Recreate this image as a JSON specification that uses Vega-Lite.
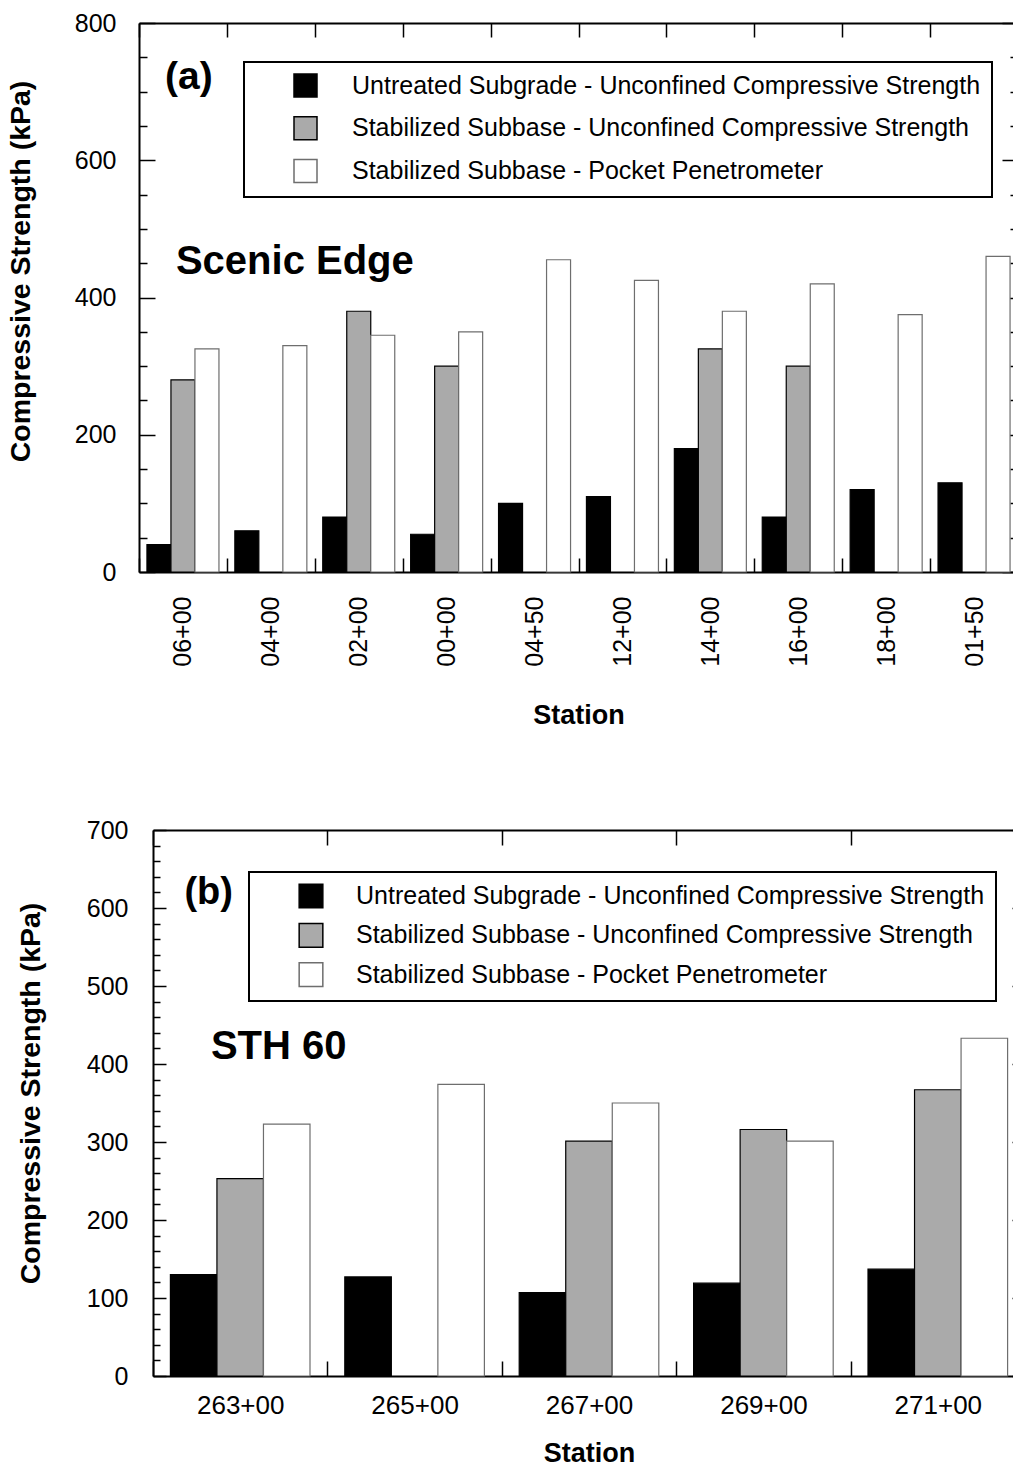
{
  "$schema": "https://vega.github.io/schema/vega-lite/v6.json",
  "background": "white",
  "padding": {"left": 6, "top": 11, "right": 0, "bottom": 0},
  "spacing": 90,
  "config": {
    "font": "Liberation Sans",
    "view": {"stroke": null},
    "axis": {
      "domainColor": "black", "domainWidth": 2, "tickColor": "black", "tickWidth": 1.5,
      "labelColor": "black", "titleColor": "black", "grid": false,
      "labelFont": "Liberation Sans", "titleFont": "Liberation Sans",
      "labelFontSize": 25, "titleFontSize": 27, "titleFontWeight": "bold"
    },
    "legend": {
      "orient": "none", "title": null, "symbolType": "square", "symbolSize": 529,
      "labelFont": "Liberation Sans", "labelFontSize": 25, "labelColor": "black", "labelLimit": 1000,
      "strokeColor": "black", "strokeWidth": 2, "fillColor": "white",
      "symbolStrokeColor": "black", "symbolStrokeWidth": 1.5
    }
  },
  "resolve": {"scale": {"fill": "independent", "stroke": "independent", "xOffset": "independent", "x": "independent", "y": "independent"}, "legend": {"fill": "independent"}},
  "vconcat": [
    {
      "width": 879,
      "height": 549,
      "data": {"values": [
        {"station": "06+00", "series": "Untreated Subgrade - Unconfined Compressive Strength", "value": 40},
        {"station": "06+00", "series": "Stabilized Subbase - Unconfined Compressive Strength", "value": 280},
        {"station": "06+00", "series": "Stabilized Subbase - Pocket Penetrometer", "value": 325},
        {"station": "04+00", "series": "Untreated Subgrade - Unconfined Compressive Strength", "value": 60},
        {"station": "04+00", "series": "Stabilized Subbase - Pocket Penetrometer", "value": 330},
        {"station": "02+00", "series": "Untreated Subgrade - Unconfined Compressive Strength", "value": 80},
        {"station": "02+00", "series": "Stabilized Subbase - Unconfined Compressive Strength", "value": 380},
        {"station": "02+00", "series": "Stabilized Subbase - Pocket Penetrometer", "value": 345},
        {"station": "00+00", "series": "Untreated Subgrade - Unconfined Compressive Strength", "value": 55},
        {"station": "00+00", "series": "Stabilized Subbase - Unconfined Compressive Strength", "value": 300},
        {"station": "00+00", "series": "Stabilized Subbase - Pocket Penetrometer", "value": 350},
        {"station": "04+50", "series": "Untreated Subgrade - Unconfined Compressive Strength", "value": 100},
        {"station": "04+50", "series": "Stabilized Subbase - Pocket Penetrometer", "value": 455},
        {"station": "12+00", "series": "Untreated Subgrade - Unconfined Compressive Strength", "value": 110},
        {"station": "12+00", "series": "Stabilized Subbase - Pocket Penetrometer", "value": 425},
        {"station": "14+00", "series": "Untreated Subgrade - Unconfined Compressive Strength", "value": 180},
        {"station": "14+00", "series": "Stabilized Subbase - Unconfined Compressive Strength", "value": 325},
        {"station": "14+00", "series": "Stabilized Subbase - Pocket Penetrometer", "value": 380},
        {"station": "16+00", "series": "Untreated Subgrade - Unconfined Compressive Strength", "value": 80},
        {"station": "16+00", "series": "Stabilized Subbase - Unconfined Compressive Strength", "value": 300},
        {"station": "16+00", "series": "Stabilized Subbase - Pocket Penetrometer", "value": 420},
        {"station": "18+00", "series": "Untreated Subgrade - Unconfined Compressive Strength", "value": 120},
        {"station": "18+00", "series": "Stabilized Subbase - Pocket Penetrometer", "value": 375},
        {"station": "01+50", "series": "Untreated Subgrade - Unconfined Compressive Strength", "value": 130},
        {"station": "01+50", "series": "Stabilized Subbase - Pocket Penetrometer", "value": 460}
      ]},
      "resolve": {"axis": {"x": "independent", "y": "independent"}},
      "layer": [
        {
          "mark": {"type": "bar", "strokeWidth": 1.2},
          "encoding": {
            "x": {"field": "station", "type": "nominal",
              "scale": {"domain": ["06+00","04+00","02+00","00+00","04+50","12+00","14+00","16+00","18+00","01+50"], "paddingInner": 0, "paddingOuter": 0},
              "axis": {"orient": "bottom", "labelAngle": -90, "labelPadding": 38, "tickSize": -14, "tickBand": "extent",
                "title": "Station", "titleY": 143, "titleBaseline": "middle"}},
            "xOffset": {"field": "series", "type": "nominal",
              "scale": {"domain": ["Untreated Subgrade - Unconfined Compressive Strength", "Stabilized Subbase - Unconfined Compressive Strength", "Stabilized Subbase - Pocket Penetrometer"], "paddingInner": 0, "paddingOuter": 0.331}},
            "y": {"field": "value", "type": "quantitative",
              "scale": {"domain": [0, 800], "nice": false},
              "axis": {"orient": "left", "values": [0,50,100,150,200,250,300,350,400,450,500,550,600,650,700,750,800],
                "labelExpr": "datum.value % 200 === 0 ? datum.label : ''",
                "tickSize": {"condition": {"test": "datum.value % 200 === 0", "value": -16}, "value": -8},
                "labelPadding": 39,
                "title": "Compressive Strength (kPa)", "titleFontSize": 28.5, "titleX": -119, "titleY": 248, "titleAngle": 270, "titleBaseline": "middle", "titleAlign": "center"}},
            "fill": {"field": "series", "type": "nominal",
              "scale": {"domain": ["Untreated Subgrade - Unconfined Compressive Strength", "Stabilized Subbase - Unconfined Compressive Strength", "Stabilized Subbase - Pocket Penetrometer"], "range": ["black", "#aaaaaa", "white"]},
              "legend": {"legendX": 105, "legendY": 39, "padding": 11, "symbolOffset": 38, "labelOffset": 34, "rowPadding": 13.7}},
            "stroke": {"field": "series", "type": "nominal",
              "scale": {"domain": ["Untreated Subgrade - Unconfined Compressive Strength", "Stabilized Subbase - Unconfined Compressive Strength", "Stabilized Subbase - Pocket Penetrometer"], "range": ["black", "black", "#6e6e6e"]},
              "legend": null}
          }
        },
        {
          "mark": {"type": "bar", "opacity": 0},
          "encoding": {
            "x": {"field": "station", "type": "nominal",
              "scale": {"domain": ["06+00","04+00","02+00","00+00","04+50","12+00","14+00","16+00","18+00","01+50"], "paddingInner": 0, "paddingOuter": 0},
              "axis": {"orient": "top", "labels": false, "title": null, "tickSize": -14, "tickBand": "extent"}},
            "xOffset": {"field": "series", "type": "nominal",
              "scale": {"domain": ["Untreated Subgrade - Unconfined Compressive Strength", "Stabilized Subbase - Unconfined Compressive Strength", "Stabilized Subbase - Pocket Penetrometer"], "paddingInner": 0, "paddingOuter": 0.331}},
            "y": {"field": "value", "type": "quantitative",
              "scale": {"domain": [0, 800], "nice": false},
              "axis": {"orient": "right", "labels": false, "title": null,
                "values": [0,50,100,150,200,250,300,350,400,450,500,550,600,650,700,750,800],
                "tickSize": {"condition": {"test": "datum.value % 200 === 0", "value": -16}, "value": -8}}}
          }
        },
        {
          "data": {"values": [{}]},
          "mark": {"type": "text", "text": "(a)", "font": "Liberation Sans", "fontWeight": "bold", "fontSize": 39, "color": "black", "align": "center", "baseline": "middle", "dx": 6},
          "encoding": {
            "x": {"datum": "06+00", "type": "nominal", "axis": null, "scale": {"domain": ["06+00","04+00","02+00","00+00","04+50","12+00","14+00","16+00","18+00","01+50"], "paddingInner": 0, "paddingOuter": 0}},
            "xOffset": {"datum": "Stabilized Subbase - Unconfined Compressive Strength", "type": "nominal", "scale": {"domain": ["Untreated Subgrade - Unconfined Compressive Strength", "Stabilized Subbase - Unconfined Compressive Strength", "Stabilized Subbase - Pocket Penetrometer"], "paddingInner": 0, "paddingOuter": 0.331}},
            "y": {"datum": 721, "type": "quantitative", "axis": null, "scale": {"domain": [0, 800], "nice": false}}
          }
        },
        {
          "data": {"values": [{}]},
          "mark": {"type": "text", "text": "Scenic Edge", "font": "Liberation Sans", "fontWeight": "bold", "fontSize": 40, "color": "black", "align": "center", "baseline": "middle"},
          "encoding": {
            "x": {"datum": "04+00", "type": "nominal", "axis": null, "scale": {"domain": ["06+00","04+00","02+00","00+00","04+50","12+00","14+00","16+00","18+00","01+50"], "paddingInner": 0, "paddingOuter": 0}},
            "xOffset": {"datum": "Stabilized Subbase - Pocket Penetrometer", "type": "nominal", "scale": {"domain": ["Untreated Subgrade - Unconfined Compressive Strength", "Stabilized Subbase - Unconfined Compressive Strength", "Stabilized Subbase - Pocket Penetrometer"], "paddingInner": 0, "paddingOuter": 0.331}},
            "y": {"datum": 452, "type": "quantitative", "axis": null, "scale": {"domain": [0, 800], "nice": false}}
          }
        }
      ]
    },
    {
      "width": 886,
      "height": 546,
      "data": {"values": [
        {"station": "263+00", "series": "Untreated Subgrade - Unconfined Compressive Strength", "value": 130},
        {"station": "263+00", "series": "Stabilized Subbase - Unconfined Compressive Strength", "value": 253},
        {"station": "263+00", "series": "Stabilized Subbase - Pocket Penetrometer", "value": 323},
        {"station": "265+00", "series": "Untreated Subgrade - Unconfined Compressive Strength", "value": 127},
        {"station": "265+00", "series": "Stabilized Subbase - Pocket Penetrometer", "value": 374},
        {"station": "267+00", "series": "Untreated Subgrade - Unconfined Compressive Strength", "value": 107},
        {"station": "267+00", "series": "Stabilized Subbase - Unconfined Compressive Strength", "value": 301},
        {"station": "267+00", "series": "Stabilized Subbase - Pocket Penetrometer", "value": 350},
        {"station": "269+00", "series": "Untreated Subgrade - Unconfined Compressive Strength", "value": 119},
        {"station": "269+00", "series": "Stabilized Subbase - Unconfined Compressive Strength", "value": 316},
        {"station": "269+00", "series": "Stabilized Subbase - Pocket Penetrometer", "value": 301},
        {"station": "271+00", "series": "Untreated Subgrade - Unconfined Compressive Strength", "value": 137},
        {"station": "271+00", "series": "Stabilized Subbase - Unconfined Compressive Strength", "value": 367},
        {"station": "271+00", "series": "Stabilized Subbase - Pocket Penetrometer", "value": 433}
      ]},
      "resolve": {"axis": {"x": "independent", "y": "independent"}},
      "layer": [
        {
          "mark": {"type": "bar", "strokeWidth": 1.2},
          "encoding": {
            "x": {"field": "station", "type": "nominal",
              "scale": {"domain": ["263+00","265+00","267+00","269+00","271+00"], "range": [14, 886], "paddingInner": 0, "paddingOuter": 0},
              "axis": {"orient": "bottom", "labelAngle": 0, "labelFontSize": 26, "labelPadding": 31, "tickSize": -15, "tickBand": "extent",
                "title": "Station", "titleY": 77, "titleBaseline": "middle"}},
            "xOffset": {"field": "series", "type": "nominal",
              "scale": {"domain": ["Untreated Subgrade - Unconfined Compressive Strength", "Stabilized Subbase - Unconfined Compressive Strength", "Stabilized Subbase - Pocket Penetrometer"], "paddingInner": 0, "paddingOuter": 0.374}},
            "y": {"field": "value", "type": "quantitative",
              "scale": {"domain": [0, 700], "nice": false},
              "axis": {"orient": "left", "offset": -14,
                "values": [0,20,40,60,80,100,120,140,160,180,200,220,240,260,280,300,320,340,360,380,400,420,440,460,480,500,520,540,560,580,600,620,640,660,680,700],
                "labelExpr": "datum.value % 100 === 0 ? datum.label : ''",
                "tickSize": {"condition": {"test": "datum.value % 100 === 0", "value": -13}, "value": -7},
                "labelPadding": 38,
                "title": "Compressive Strength (kPa)", "titleFontSize": 28.5, "titleX": -123, "titleY": 263, "titleAngle": 270, "titleBaseline": "middle", "titleAlign": "center"}},
            "fill": {"field": "series", "type": "nominal",
              "scale": {"domain": ["Untreated Subgrade - Unconfined Compressive Strength", "Stabilized Subbase - Unconfined Compressive Strength", "Stabilized Subbase - Pocket Penetrometer"], "range": ["black", "#aaaaaa", "white"]},
              "legend": {"legendX": 110, "legendY": 42, "padding": 11, "symbolOffset": 38, "labelOffset": 32, "rowPadding": 9.3, "symbolSize": 560}},
            "stroke": {"field": "series", "type": "nominal",
              "scale": {"domain": ["Untreated Subgrade - Unconfined Compressive Strength", "Stabilized Subbase - Unconfined Compressive Strength", "Stabilized Subbase - Pocket Penetrometer"], "range": ["black", "black", "#6e6e6e"]},
              "legend": null}
          }
        },
        {
          "mark": {"type": "bar", "opacity": 0},
          "encoding": {
            "x": {"field": "station", "type": "nominal",
              "scale": {"domain": ["263+00","265+00","267+00","269+00","271+00"], "range": [14, 886], "paddingInner": 0, "paddingOuter": 0},
              "axis": {"orient": "top", "labels": false, "title": null, "tickSize": -15, "tickBand": "extent"}},
            "xOffset": {"field": "series", "type": "nominal",
              "scale": {"domain": ["Untreated Subgrade - Unconfined Compressive Strength", "Stabilized Subbase - Unconfined Compressive Strength", "Stabilized Subbase - Pocket Penetrometer"], "paddingInner": 0, "paddingOuter": 0.374}},
            "y": {"field": "value", "type": "quantitative",
              "scale": {"domain": [0, 700], "nice": false},
              "axis": {"orient": "right", "labels": false, "title": null,
                "values": [0,20,40,60,80,100,120,140,160,180,200,220,240,260,280,300,320,340,360,380,400,420,440,460,480,500,520,540,560,580,600,620,640,660,680,700],
                "tickSize": {"condition": {"test": "datum.value % 100 === 0", "value": -13}, "value": -7}}}
          }
        },
        {
          "data": {"values": [{}]},
          "mark": {"type": "text", "text": "(b)", "font": "Liberation Sans", "fontWeight": "bold", "fontSize": 38, "color": "black", "align": "center", "baseline": "middle", "dx": 15},
          "encoding": {
            "x": {"datum": "263+00", "type": "nominal", "axis": null, "scale": {"domain": ["263+00","265+00","267+00","269+00","271+00"], "range": [14, 886], "paddingInner": 0, "paddingOuter": 0}},
            "xOffset": {"datum": "Untreated Subgrade - Unconfined Compressive Strength", "type": "nominal", "scale": {"domain": ["Untreated Subgrade - Unconfined Compressive Strength", "Stabilized Subbase - Unconfined Compressive Strength", "Stabilized Subbase - Pocket Penetrometer"], "paddingInner": 0, "paddingOuter": 0.374}},
            "y": {"datum": 619, "type": "quantitative", "axis": null, "scale": {"domain": [0, 700], "nice": false}}
          }
        },
        {
          "data": {"values": [{}]},
          "mark": {"type": "text", "text": "STH 60", "font": "Liberation Sans", "fontWeight": "bold", "fontSize": 40, "color": "black", "align": "center", "baseline": "middle", "dx": -8},
          "encoding": {
            "x": {"datum": "263+00", "type": "nominal", "axis": null, "scale": {"domain": ["263+00","265+00","267+00","269+00","271+00"], "range": [14, 886], "paddingInner": 0, "paddingOuter": 0}},
            "xOffset": {"datum": "Stabilized Subbase - Pocket Penetrometer", "type": "nominal", "scale": {"domain": ["Untreated Subgrade - Unconfined Compressive Strength", "Stabilized Subbase - Unconfined Compressive Strength", "Stabilized Subbase - Pocket Penetrometer"], "paddingInner": 0, "paddingOuter": 0.374}},
            "y": {"datum": 422, "type": "quantitative", "axis": null, "scale": {"domain": [0, 700], "nice": false}}
          }
        }
      ]
    }
  ]
}
